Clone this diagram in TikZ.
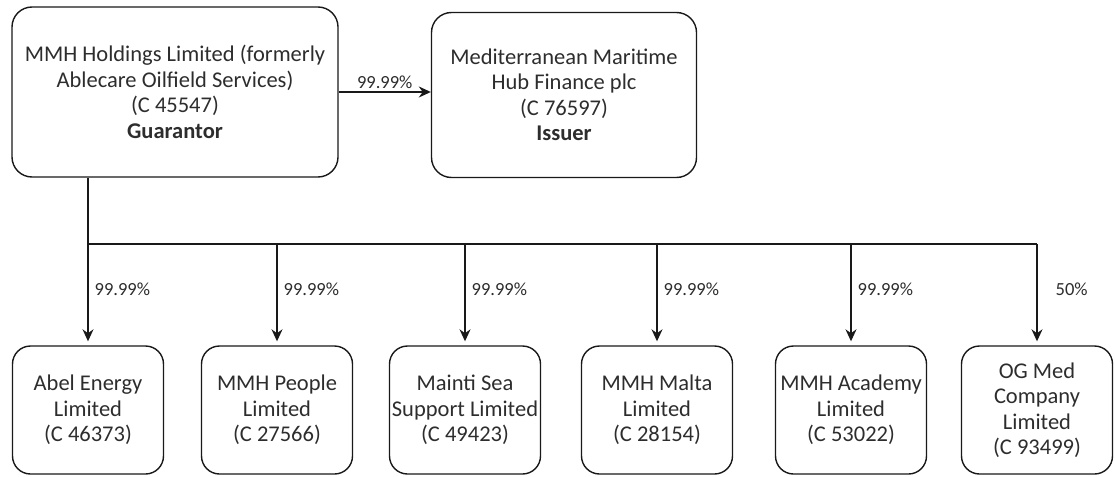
\documentclass[tikz,border=0pt]{standalone}
\usepackage{fontspec}
\setmainfont{Carlito}
\usetikzlibrary{arrows.meta,positioning}
\definecolor{boxline}{RGB}{25,25,25}
\definecolor{inktext}{RGB}{45,45,45}

\begin{document}
\begin{tikzpicture}[x=1pt, y=-1pt,
  every node/.style={font=\fontsize{22.5}{25.5}\selectfont, text=inktext},
  holding/.style={draw=boxline, line width=1.4pt, rounded corners=20pt, align=center, inner sep=1pt},
  subsid/.style={draw=boxline, line width=1.4pt, rounded corners=18pt, align=center, inner sep=1pt, minimum width=151pt, minimum height=128pt},
  link/.style={-{Stealth[length=12pt,width=11pt]}, line width=1.3pt, boxline},
  share/.style={font=\fontsize{18.5}{21}\selectfont, anchor=west, inner sep=0pt}]
\useasboundingbox (0,0) rectangle (1115,476);

\node[holding, minimum width=326pt, minimum height=170pt] (guarantor) at (175,92) {MMH Holdings Limited (formerly\\Ablecare Oilfield Services)\\(C 45547)\\\textbf{Guarantor}};

\node[holding, minimum width=265pt, minimum height=165pt] (issuer) at (564,95) {Mediterranean Maritime\\Hub Finance plc\\(C 76597)\\\textbf{Issuer}};

\node[subsid] (abel) at (88,410) {Abel Energy\\Limited\\(C 46373)};
\node[subsid] (people) at (277,410) {MMH People\\Limited\\(C 27566)};
\node[subsid] (mainti) at (465,410) {Mainti Sea\\Support Limited\\(C 49423)};
\node[subsid] (malta) at (657,410) {MMH Malta\\Limited\\(C 28154)};
\node[subsid] (academy) at (851,410) {MMH Academy\\Limited\\(C 53022)};
\node[subsid] (ogmed) at (1037,410) {OG Med\\Company\\Limited\\(C 93499)};

% ownership lines
\coordinate (trunk) at (0,244);
\draw[link] (guarantor.east) -- (guarantor.east -| issuer.west) node[midway, share, anchor=south, yshift=3pt] {99.99\%};
\draw[line width=1.3pt, boxline] (guarantor.south -| abel) -- (trunk -| abel) -- (trunk -| ogmed);

\draw[link, shorten >=4pt] (trunk -| abel) -- (abel.north) node[pos=0.45, share, xshift=6pt] {99.99\%};
\draw[link, shorten >=4pt] (trunk -| people) -- (people.north) node[pos=0.45, share, xshift=6pt] {99.99\%};
\draw[link, shorten >=4pt] (trunk -| mainti) -- (mainti.north) node[pos=0.45, share, xshift=6pt] {99.99\%};
\draw[link, shorten >=4pt] (trunk -| malta) -- (malta.north) node[pos=0.45, share, xshift=6pt] {99.99\%};
\draw[link, shorten >=4pt] (trunk -| academy) -- (academy.north) node[pos=0.45, share, xshift=6pt] {99.99\%};
\draw[link, shorten >=4pt] (trunk -| ogmed) -- (ogmed.north) node[pos=0.45, share, xshift=18pt] {50\%};
\end{tikzpicture}
\end{document}
